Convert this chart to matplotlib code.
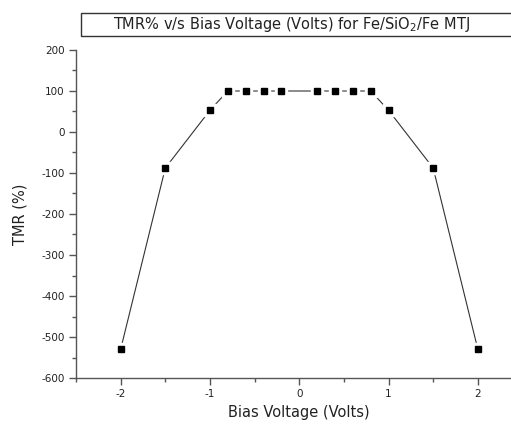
import matplotlib
matplotlib.use("Agg")
import matplotlib.pyplot as plt
from matplotlib.patches import Rectangle
from matplotlib.ticker import MultipleLocator

plt.rcParams['font.family'] = ['DejaVu Sans']
plt.rcParams['mathtext.fontset'] = 'dejavusans'
plt.rcParams['axes.unicode_minus'] = False

# data
bias = [-2, -1.5, -1, -0.8, -0.6, -0.4, -0.2, 0.2, 0.4, 0.6, 0.8, 1, 1.5, 2]
tmr = [-530, -88, 53, 100, 100, 100, 100, 100, 100, 100, 100, 53, -88, -530]

title = r'TMR% v/s Bias Voltage (Volts) for Fe/SiO$_2$/Fe MTJ'
xlabel = 'Bias Voltage (Volts)'
ylabel = 'TMR (%)'

fig = plt.figure(figsize=(5.11, 4.24), dpi=100)
ax = fig.add_axes([76/511, 46/424, 446.5/511, 328/424])

# line with gaps around markers (Origin style)
ax.plot(bias, tmr, color='#333333', lw=0.8, zorder=1)
ax.plot(bias, tmr, ls='none', marker='s', ms=8.5, mfc='white', mec='white', zorder=2)
ax.plot(bias, tmr, ls='none', marker='s', ms=4.5, mfc='black', mec='black', zorder=3)

ax.set_xlim(-2.5, 2.5)
ax.set_ylim(-600, 200)
ax.xaxis.set_major_locator(MultipleLocator(1))
ax.xaxis.set_minor_locator(MultipleLocator(0.5))
ax.yaxis.set_major_locator(MultipleLocator(100))
ax.yaxis.set_minor_locator(MultipleLocator(50))

for s in ['top', 'right']:
    ax.spines[s].set_visible(False)
for s in ['left', 'bottom']:
    ax.spines[s].set_color('#555555')
    ax.spines[s].set_linewidth(1.0)

ax.tick_params(which='both', direction='out', color='#555555', width=1.0,
               labelsize=7.5, labelcolor='#222222')
ax.tick_params(which='major', length=5, pad=3)
ax.tick_params(which='minor', length=3)

ax.set_xlabel(xlabel, fontsize=10.5, color='#222222', labelpad=4)
ax.set_ylabel(ylabel, fontsize=10.5, color='#222222', labelpad=10)

# boxed title
fig.patches.append(Rectangle((81/511, 1 - 36/424), 0.9, 23/424, transform=fig.transFigure,
                             fill=False, ec='#333333', lw=1.0))
fig.text(113/511, 1 - 24.5/424, title, fontsize=10.5, color='#222222', va='center', ha='left')

fig.savefig('out.png', dpi=100)
